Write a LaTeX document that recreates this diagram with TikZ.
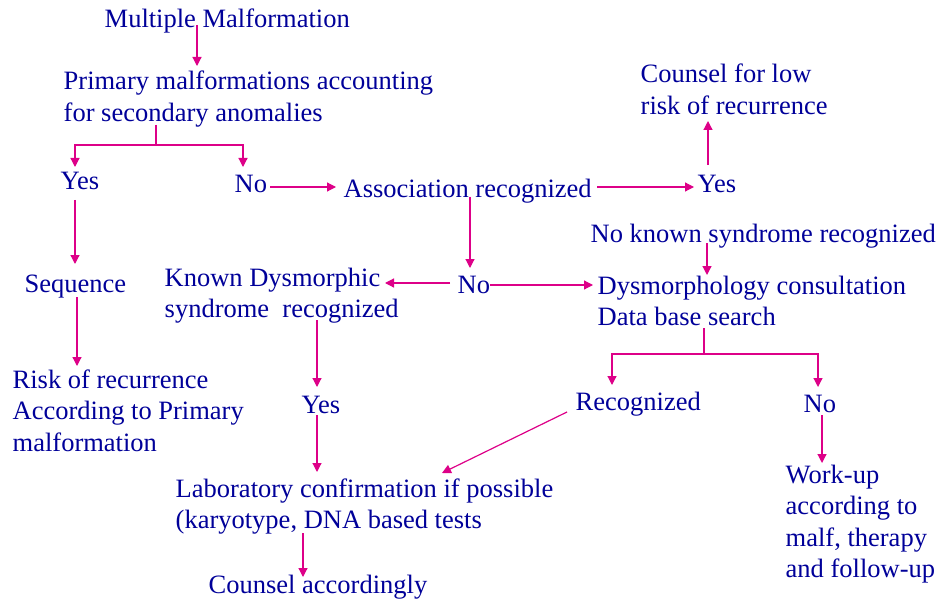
\documentclass[tikz,border=0pt]{standalone}
\usepackage{fontspec}
\setmainfont{LiberationSerif-Regular.ttf}
\usetikzlibrary{arrows.meta}
\definecolor{txt}{RGB}{0,0,153}
\definecolor{arrc}{RGB}{221,0,136}
\newcommand{\mlines}[1]{\begin{tabular}[t]{@{}l@{}}#1\end{tabular}}
\begin{document}
\begin{tikzpicture}[x=1pt,y=-1pt,
  lbl/.style={anchor=base west,inner sep=0.5pt,text=txt,font=\fontsize{26.5}{31.5}\selectfont},
  ln/.style={draw=arrc,line width=1.2pt},
  arr/.style={ln,-{Triangle[length=9pt,width=9pt]}}]
\useasboundingbox (0,0) rectangle (942,604);

% nodes
\node[lbl] (mm) at (104,28) {Multiple Malformation};
\node[lbl] (pm) at (63,90) {\mlines{Primary malformations accounting\\for secondary anomalies}};
\node[lbl] (yes1) at (60,190) {Yes};
\node[lbl] (no1) at (234,193) {No};
\node[lbl] (assoc) at (343,197) {Association recognized};
\node[lbl] (yes2) at (697,193) {Yes};
\node[lbl] (counsel) at (640,83) {\mlines{Counsel for low\\risk of recurrence}};
\node[lbl] (nks) at (590,242) {No known syndrome recognized};
\node[lbl] (dys) at (597,294) {\mlines{Dysmorphology consultation\\Data base search}};
\node[lbl] (no2) at (457,293) {No};
\node[lbl] (known) at (164,286) {\mlines{Known Dysmorphic\\syndrome~~recognized}};
\node[lbl] (seq) at (24,292) {Sequence};
\node[lbl] (risk) at (12,388) {\mlines{Risk of recurrence\\According to Primary\\malformation}};
\node[lbl] (yes3) at (301,413) {Yes};
\node[lbl] (lab) at (175,497) {\mlines{Laboratory confirmation if possible\\(karyotype, DNA based tests}};
\node[lbl] (counsel2) at (208,593) {Counsel accordingly};
\node[lbl] (recog) at (575,410) {Recognized};
\node[lbl] (no3) at (803,412) {No};
\node[lbl] (work) at (785,483) {\mlines{Work-up\\according to\\malf, therapy\\and follow-up}};

% connectors
\draw[arr] ([yshift=3pt]mm.base -| 197,0) -- ([yshift=24pt]pm.base -| 197,0);
\draw[ln] ([yshift=-35pt]pm.base -| 156,0) -- ([yshift=-55pt]pm.base -| 156,0);
\draw[arr] ([yshift=-55pt]pm.base -| 156,0) -| ([yshift=23pt]yes1.base -| 75,0);
\draw[arr] ([yshift=-55pt]pm.base -| 156,0) -| ([yshift=26pt]no1.base -| 243,0);
\draw[arr] ([yshift=-10pt]yes1.base -| 75,0) -- ([yshift=28pt]seq.base -| 75,0);
\draw[arr] ([yshift=-5pt]seq.base -| 77,0) -- ([yshift=22pt]risk.base -| 77,0);
\draw[arr] ([yshift=6pt]no1.base -| 270,0) -- ([yshift=10pt]assoc.base -| 336,0);
\draw[arr] ([yshift=10pt]assoc.base -| 597,0) -- ([yshift=6pt]yes2.base -| 694,0);
\draw[arr] ([yshift=28pt]yes2.base -| 708,0) -- ([yshift=-38pt]counsel.base -| 708,0);
\draw[arr] (assoc.base -| 470,0) -- ([yshift=25pt]no2.base -| 470,0);
\draw[arr] ([yshift=8pt]no2.base -| 490,0) -- ([yshift=9pt]dys.base -| 593,0);
\draw[arr] ([yshift=10pt]no2.base -| 450,0) -- ([yshift=3pt]known.base -| 385,0);
\draw[arr] ([yshift=-1pt]nks.base -| 707,0) -- ([yshift=19pt]dys.base -| 707,0);
\draw[arr] ([yshift=-34pt]known.base -| 317,0) -- ([yshift=26pt]yes3.base -| 317,0);
\draw[arr] ([yshift=-2pt]yes3.base -| 317,0) -- ([yshift=25pt]lab.base -| 317,0);
\draw[arr] ([yshift=-36pt]lab.base -| 303,0) -- ([yshift=16pt]counsel2.base -| 303,0);
\draw[arr] ([xshift=-8pt,yshift=-2pt]recog.base west) -- ([yshift=24pt]lab.base -| 442,0);
\draw[ln] ([yshift=-34pt]dys.base -| 704,0) -- ([yshift=-60pt]dys.base -| 704,0);
\draw[arr] ([yshift=-60pt]dys.base -| 704,0) -| ([yshift=25pt]recog.base -| 612,0);
\draw[arr] ([yshift=-60pt]dys.base -| 704,0) -| ([yshift=25pt]no3.base -| 818,0);
\draw[arr] ([yshift=-3pt]no3.base -| 822,0) -- ([yshift=20pt]work.base -| 822,0);
\end{tikzpicture}
\end{document}
